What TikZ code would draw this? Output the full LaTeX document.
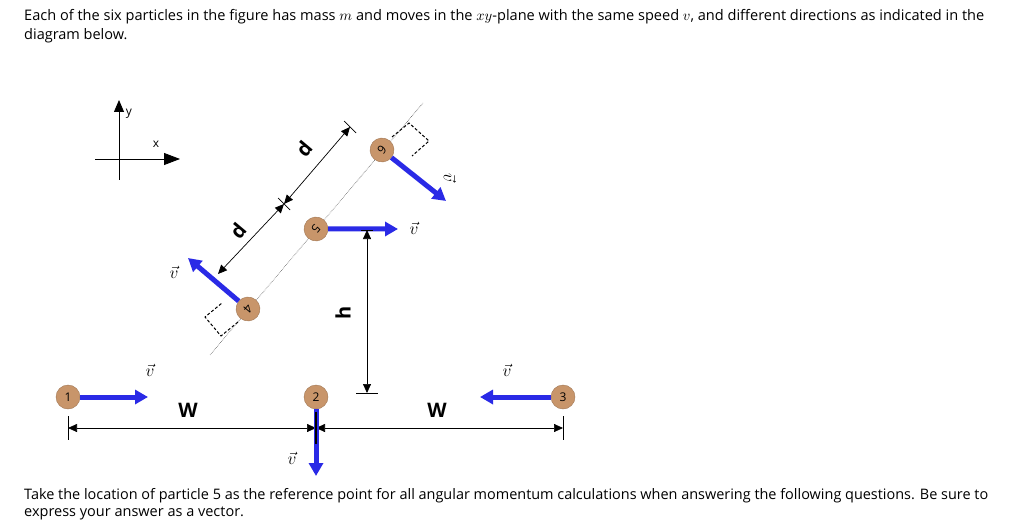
\documentclass[tikz,border=0pt]{standalone}
\usepackage{fontspec}
\usepackage{graphicx}
\setmainfont{Open Sans}
\usetikzlibrary{arrows.meta,calc}
\definecolor{tan}{HTML}{C8956A}
\definecolor{vblue}{HTML}{2A2AE6}
\begin{document}
\begin{tikzpicture}[x=1pt,y=-1pt,
  part/.style={circle,fill=tan,draw=tan!80!black,line width=0.4pt,minimum size=24pt,inner sep=0pt,font=\fontsize{12}{12}\selectfont},
  vel/.style={vblue,line width=5pt,-{Triangle[length=13pt,width=14pt]}},
  dim/.style={line width=0.7pt,{Triangle[length=9pt,width=8pt]}-{Triangle[length=9pt,width=8pt]}},
  lab/.style={font=\fontsize{20}{20}\selectfont\bfseries},
  vl/.style={font=\fontsize{18}{18}\selectfont}]
\useasboundingbox (0,0) rectangle (1024,529);
\node[anchor=north west,inner sep=0] (t1) at (24,9) {\resizebox{960pt}{!}{Each of the six particles in the figure has mass $m$ and moves in the $xy$-plane with the same speed $v$, and different directions as indicated in the}};
\node[anchor=north west,inner sep=0,font=\fontsize{14.5}{18}\selectfont] (t1b) at (24,28) {diagram below.};
\node[anchor=north west,inner sep=0] (t2) at (24,488) {\resizebox{964pt}{!}{Take the location of particle 5 as the reference point for all angular momentum calculations when answering the following questions. Be sure to}};
\node[anchor=north west,inner sep=0,font=\fontsize{14.5}{18}\selectfont] (t3) at (24,507) {express your answer as a vector.};
% axes
\coordinate (ye) at (119,100); \coordinate (yb) at (119,180);
\coordinate (xb) at (95,159); \coordinate (xe) at (180,159);
\draw[line width=0.8pt,-{Triangle[length=12pt,width=10pt]}] (yb) -- (ye);
\draw[line width=0.8pt,-{Triangle[length=16pt,width=12pt]}] (xb) -- (xe);
\node[font=\fontsize{12}{12}\selectfont] (ly) at (129,114) {y};
\node[font=\fontsize{12}{12}\selectfont] (lx) at (156,144) {x};
% dotted line
\coordinate (da) at (210,355); \coordinate (db) at (423,103);
\draw[densely dotted,line width=0.6pt,gray!70!black] (da) -- (db);
% particles
\node[part] (p1) at (68,397) {1};
\node[part] (p2) at (316,397) {2};
\node[part] (p3) at (563,397) {3};
\node[part,rotate=-130] (p4) at (248,309) {4};
\node[part,rotate=-130] (p5) at (316,229) {5};
\node[part,rotate=-130] (p6) at (382,150) {6};
% bottom dimension
\coordinate (wl) at (68,428); \coordinate (wm) at (316,428); \coordinate (wr) at (563,428);
\draw[line width=0.7pt] ($(wl)+(0,-12)$) -- ($(wl)+(0,12)$);
\draw[line width=0.7pt] ($(wr)+(0,-12)$) -- ($(wr)+(0,12)$);
\draw[dim] (wl) -- (wm);
\draw[dim] (wm) -- (wr);
\node[lab] (w1) at (188,410) {W};
\node[lab] (w2) at (437,410) {W};
% velocities
\coordinate (v1) at (148,397); \coordinate (v2) at (316,476); \coordinate (v3) at (480,397);
\coordinate (v4) at (188,258); \coordinate (v5) at (398,229); \coordinate (v6) at (446,201);
\draw[vel] (p1) -- (v1);
\draw[vel] (p2) -- (v2);
\draw[line width=1.5pt] (316,412) -- (316,444);
\draw[vel] (p3) -- (v3);
\draw[vel] (p4) -- (v4);
\draw[vel] (p5) -- (v5);
\draw[vel] (p6) -- (v6);
\node[vl] (lv1) at (150,370) {$\vec{v}$};
\node[vl] (lv2) at (292,458) {$\vec{v}$};
\node[vl] (lv3) at (507,370) {$\vec{v}$};
\node[vl] (lv4) at (174,272) {$\vec{v}$};
\node[vl] (lv5) at (414,228) {$\vec{v}$};
\node[vl,rotate=-90] (lv6) at (450,178) {$\vec{v}$};
% d dimensions
\coordinate (d0) at (218,274); \coordinate (dm) at (284,204); \coordinate (d1) at (350,127);
\draw[line width=0.7pt] ($(dm)+(-6,-6)$) -- ($(dm)+(6,6)$);
\draw[line width=0.7pt] ($(d1)+(-6,-6)$) -- ($(d1)+(6,6)$);
\draw[dim] (d0) -- (dm);
\draw[dim] (dm) -- (d1);
\node[lab,rotate=50] (ld1) at (238,231) {d};
\node[lab,rotate=50] (ld2) at (304,149) {d};
% right-angle markers
\draw[densely dashed,line width=1pt] (238,322) -- (221,336) -- (205,317) -- (222,303);
\draw[densely dashed,line width=1pt] (392,137) -- (409,123) -- (429,141) -- (412,156);
% h dimension
\coordinate (h0) at (367,230); \coordinate (h1) at (367,393);
\draw[line width=0.7pt] (356,393) -- (378,393);
\draw[line width=0.7pt] (361,230) -- (373,230);
\draw[dim] (h0) -- (h1);
\node[lab,rotate=90] (lh) at (343,313) {h};
\end{tikzpicture}
\end{document}
